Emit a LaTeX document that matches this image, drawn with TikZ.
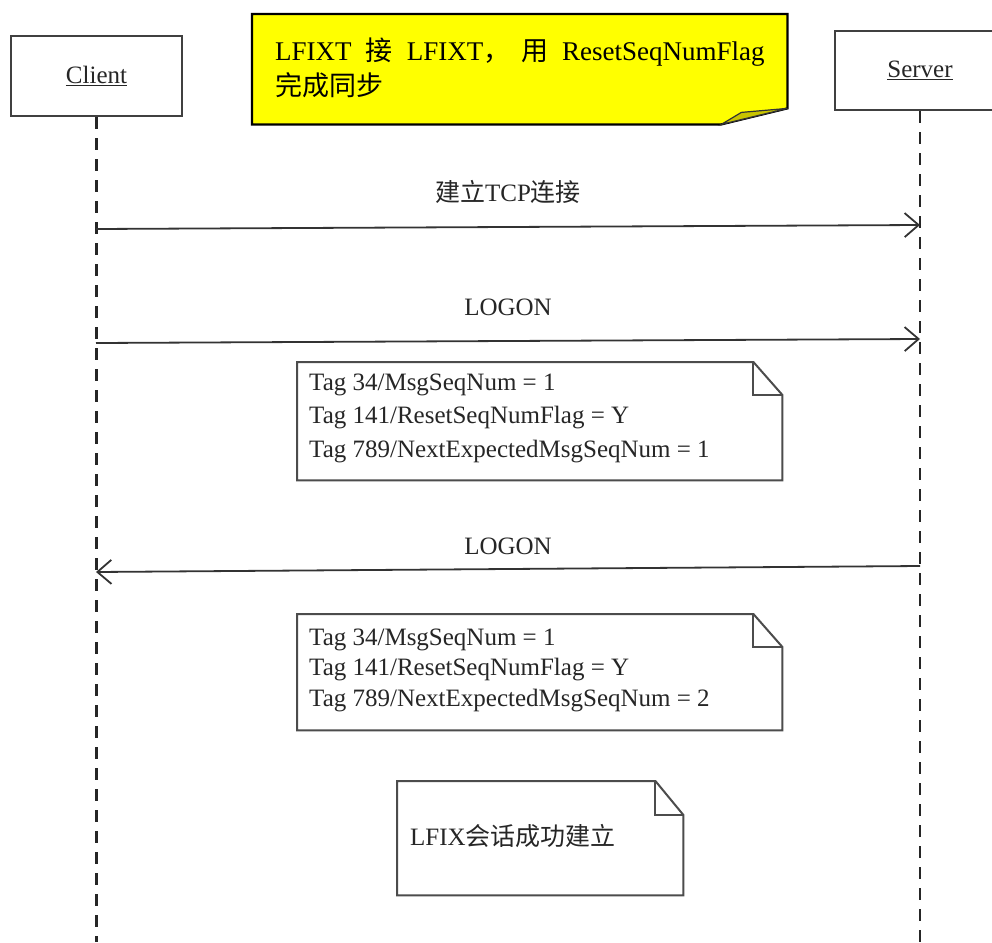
\documentclass[tikz,border=0pt]{standalone}
\usepackage{fontspec}
\setmainfont{Liberation Serif}
\newfontfamily\cjk{Noto Sans CJK SC}
\usetikzlibrary{arrows.meta}
\definecolor{noteyellow}{HTML}{FFFF00}
\definecolor{foldyellow}{HTML}{C8C400}
\begin{document}
\begin{tikzpicture}[x=1pt,y=-1pt,
  every node/.style={font=\fontsize{25}{33}\selectfont, inner sep=0pt, text=black!85},
  actor/.style={draw=black!75, line width=2.2pt, fill=white, minimum height=80pt},
  life/.style={draw=black!85, line width=2.2pt, dash pattern=on 12pt off 9pt},
  msg/.style={draw=black!80, line width=1.8pt, -{Straight Barb[length=14pt,width=24pt,line width=1.8pt]}},
  frame/.style={anchor=north west},
  noteline/.style={draw=black!70, line width=2pt, line join=miter},
  notetext/.style={anchor=west, align=left}
]
\useasboundingbox (0,0) rectangle (992,942);
\clip (0,0) rectangle (992,942);
\fill[white] (0,0) rectangle (992,942);

% actors
\node[actor, minimum width=171pt] (client) at (96.5,76) {\underline{Client}};
\node[actor, minimum width=170pt, minimum height=79pt] (server) at (920,70.5) {\underline{Server}};
\coordinate (cend) at (96.5,942);
\coordinate (send) at (920,942);
\draw[life] (client.south) -- (cend);
\draw[life] (server.south) -- (send);

% yellow note
\node[frame, minimum width=535pt, minimum height=110pt] (ynote) at (252,14) {};
\draw[fill=noteyellow, draw=black, line width=2.2pt, line join=miter]
  (ynote.north west) -- (ynote.north east) -- ([yshift=16pt]ynote.south east)
  -- ([xshift=-66pt]ynote.south east) -- (ynote.south west) -- cycle;
\draw[fill=foldyellow, draw=black!80, line width=1.2pt]
  ([xshift=-66pt]ynote.south east) -- ([xshift=-46pt,yshift=12pt]ynote.south east)
  -- ([yshift=16pt]ynote.south east) -- cycle;
\node[notetext, text=black, font=\fontsize{27}{35}\selectfont] (ytext) at (275,67.5)
  {LFIXT\hspace{0.52em}{\cjk 接}\hspace{0.52em}LFIXT{\cjk ，}\hspace{0.4em}{\cjk 用}\hspace{0.52em}ResetSeqNumFlag\\{\cjk 完成同步}};

% messages
\coordinate (c1) at (96,229);
\coordinate (s1) at (920,225);
\draw[msg] (c1) -- node[midway, yshift=35pt] (l1) {{\cjk 建立}TCP{\cjk 连接}} (s1);

\coordinate (c2) at (96,343);
\coordinate (s2) at (920,339);
\draw[msg] (c2) -- node[midway, yshift=34pt] (l2) {LOGON} (s2);

\coordinate (s3) at (920,566);
\coordinate (c3) at (96,572);
\draw[msg] (s3) -- node[midway, yshift=23pt] (l3) {LOGON} (c3);

% note 1
\node[frame, minimum width=485pt, minimum height=118pt] (n1) at (297,362) {};
\draw[noteline, fill=white] (n1.north west) -- ([xshift=-29pt]n1.north east) -- ([yshift=-33pt]n1.north east)
  -- (n1.south east) -- (n1.south west) -- cycle;
\draw[noteline] ([xshift=-29pt]n1.north east) -- ([xshift=-29pt,yshift=-33pt]n1.north east) -- ([yshift=-33pt]n1.north east);
\node[notetext, font=\fontsize{25}{33.5}\selectfont] (t1) at (309,418)
  {Tag 34/MsgSeqNum = 1\\Tag 141/ResetSeqNumFlag = Y\\Tag 789/NextExpectedMsgSeqNum = 1};

% note 2
\node[frame, minimum width=485pt, minimum height=116pt] (n2) at (297,614) {};
\draw[noteline, fill=white] (n2.north west) -- ([xshift=-29pt]n2.north east) -- ([yshift=-33pt]n2.north east)
  -- (n2.south east) -- (n2.south west) -- cycle;
\draw[noteline] ([xshift=-29pt]n2.north east) -- ([xshift=-29pt,yshift=-33pt]n2.north east) -- ([yshift=-33pt]n2.north east);
\node[notetext, font=\fontsize{25}{30.5}\selectfont] (t2) at (309,670)
  {Tag 34/MsgSeqNum = 1\\Tag 141/ResetSeqNumFlag = Y\\Tag 789/NextExpectedMsgSeqNum = 2};

% note 3
\node[frame, minimum width=286pt, minimum height=114pt] (n3) at (397,781) {};
\draw[noteline, fill=white] (n3.north west) -- ([xshift=-28pt]n3.north east) -- ([yshift=-34pt]n3.north east)
  -- (n3.south east) -- (n3.south west) -- cycle;
\draw[noteline] ([xshift=-28pt]n3.north east) -- ([xshift=-28pt,yshift=-34pt]n3.north east) -- ([yshift=-34pt]n3.north east);
\node[notetext] (t3) at (410,836) {LFIX{\cjk 会话成功建立}};
\end{tikzpicture}
\end{document}
